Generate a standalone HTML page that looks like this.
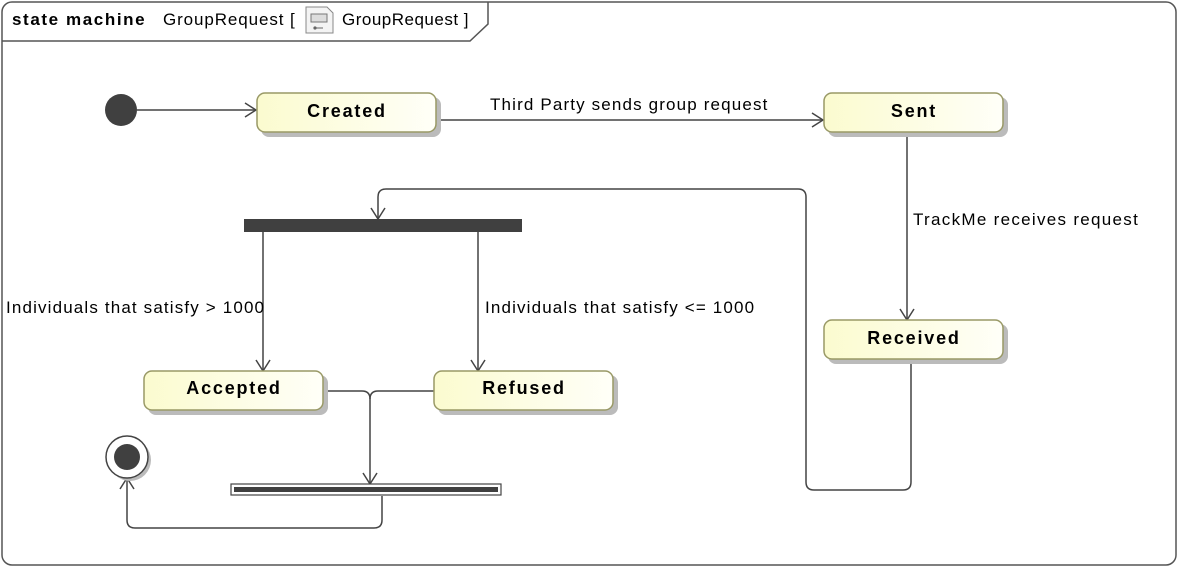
<!DOCTYPE html>
<html><head><meta charset="utf-8"><style>
html,body{margin:0;padding:0;background:#fff;}
svg{display:block;}
text{font-family:"Liberation Sans",Arial,sans-serif;}
.st{font-weight:bold;font-size:18px;letter-spacing:1.8px;}
.lb{font-size:17px;letter-spacing:1.15px;}
</style></head><body>
<svg width="1179" height="568" viewBox="0 0 1179 568" xmlns="http://www.w3.org/2000/svg">
<defs>
<linearGradient id="g" x1="0" x2="1" y1="0" y2="0">
<stop offset="0" stop-color="#fbfbcf"/><stop offset="1" stop-color="#fffff8"/>
</linearGradient>
</defs>
<rect x="2" y="2" width="1174" height="563" rx="10" fill="#fff" stroke="#555" stroke-width="1.5"/>
<path d="M2,41 L470,41 L488,24 L488,2" fill="none" stroke="#555" stroke-width="1.5"/>
<text x="12" y="25" font-size="17" font-weight="bold" letter-spacing="1.6">state machine</text>
<text x="163" y="25" font-size="17" letter-spacing="0.9">GroupRequest [</text>
<g transform="translate(306,7)">
<path d="M0,0 H21 L27,6 V26 H0 Z" fill="#f4f4f4" stroke="#888"/>
<rect x="5" y="7" width="16" height="8" fill="#ddd" stroke="#777"/>
<circle cx="9" cy="21" r="1.6" fill="#666"/><line x1="10" y1="21" x2="17" y2="21" stroke="#666"/>
</g>
<text x="342" y="25" font-size="17" letter-spacing="0.5">GroupRequest ]</text>

<g fill="none" stroke="#444" stroke-width="1.5">
<line x1="137" y1="110" x2="256" y2="110"/><path d="M245,103 L256,110 L245,117"/>
<line x1="436" y1="120" x2="823" y2="120"/><path d="M812,113 L823,120 L812,127"/>
<line x1="907" y1="133" x2="907" y2="320"/><path d="M900,309 L907,320 L914,309"/>
<path d="M911,359 V482 Q911,490 903,490 H814 Q806,490 806,482 V197 Q806,189 798,189 H386 Q378,189 378,197 V219"/><path d="M371,208 L378,219 L385,208"/>
<line x1="263" y1="232" x2="263" y2="371"/><path d="M256,360 L263,371 L270,360"/>
<line x1="478" y1="232" x2="478" y2="371"/><path d="M471,360 L478,371 L485,360"/>
<path d="M323,391 H362 Q370,391 370,399 V484"/><path d="M434,391 H378 Q370,391 370,399"/><path d="M363,473 L370,484 L377,473"/>
<path d="M382,496 V520 Q382,528 374,528 H135 Q127,528 127,520 V478"/><path d="M120,489 L127,478 L134,489"/>
</g>

<text class="lb" x="490" y="110">Third Party sends group request</text>
<text class="lb" x="913" y="225" style="letter-spacing:1.3px">TrackMe receives request</text>
<text class="lb" x="6" y="313">Individuals that satisfy &gt; 1000</text>
<text class="lb" x="485" y="313">Individuals that satisfy &lt;= 1000</text>

<circle cx="121" cy="110" r="16" fill="#404040"/>
<rect x="244" y="219" width="278" height="13" fill="#404040"/>
<rect x="231" y="484" width="270" height="11" fill="#fff" stroke="#444" stroke-width="1.2"/>
<rect x="234" y="487" width="264" height="5" fill="#404040"/>
<circle cx="130" cy="460" r="21" fill="#bbb"/>
<circle cx="127" cy="457" r="21" fill="#fff" stroke="#444" stroke-width="1.5"/>
<circle cx="127" cy="457" r="13" fill="#404040"/>

<g stroke="#999966" stroke-width="1.5">
<rect x="261" y="97" width="180" height="40" rx="8" fill="#bbb" stroke="none"/>
<rect x="257" y="93" width="179" height="39" rx="8" fill="url(#g)"/>
<rect x="828" y="97" width="180" height="40" rx="8" fill="#bbb" stroke="none"/>
<rect x="824" y="93" width="179" height="39" rx="8" fill="url(#g)"/>
<rect x="828" y="324" width="180" height="40" rx="8" fill="#bbb" stroke="none"/>
<rect x="824" y="320" width="179" height="39" rx="8" fill="url(#g)"/>
<rect x="148" y="375" width="180" height="40" rx="8" fill="#bbb" stroke="none"/>
<rect x="144" y="371" width="179" height="39" rx="8" fill="url(#g)"/>
<rect x="438" y="375" width="180" height="40" rx="8" fill="#bbb" stroke="none"/>
<rect x="434" y="371" width="179" height="39" rx="8" fill="url(#g)"/>
</g>
<text class="st" x="347" y="117" text-anchor="middle">Created</text>
<text class="st" x="914" y="117" text-anchor="middle">Sent</text>
<text class="st" x="914" y="344" text-anchor="middle">Received</text>
<text class="st" x="234" y="394" text-anchor="middle">Accepted</text>
<text class="st" x="524" y="394" text-anchor="middle">Refused</text>
</svg>
</body></html>
